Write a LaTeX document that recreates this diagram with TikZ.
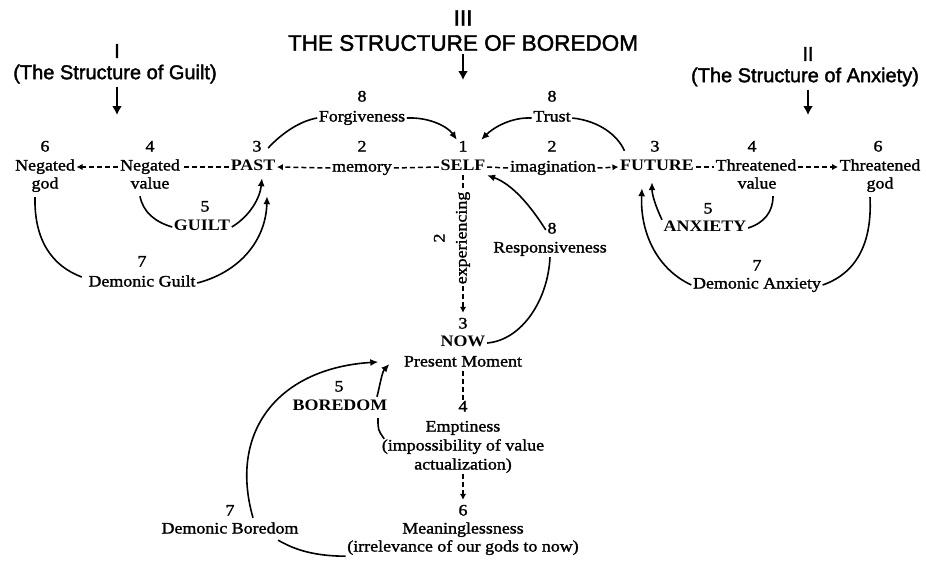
\documentclass[tikz,border=0pt]{standalone}
\usepackage{fontspec}
\setmainfont[FakeStretch=1.12]{Liberation Serif}
\newfontfamily\bodyfont[FakeStretch=1.12, FakeBold=1.5]{Liberation Serif}
\newfontfamily\capfont[FakeStretch=1.12]{Liberation Serif Bold}
\newfontfamily\hdfont[FakeBold=1.8]{Liberation Sans}
\usetikzlibrary{arrows.meta,calc}
\tikzset{
  txt/.style={font=\bodyfont\fontsize{16}{19}\selectfont, inner sep=1.5pt, text height=10pt, text depth=3pt},
  capw/.style={txt, font=\capfont\fontsize{16}{19}\selectfont},
  hd/.style={font=\hdfont\fontsize{20}{24}\selectfont, inner sep=0pt},
  ttl/.style={font=\hdfont\fontsize{22.5}{26}\selectfont, inner sep=0pt},
  ln/.style={line width=1.6pt},
  dl/.style={line width=1.5pt, dash pattern=on 5pt off 3pt},
  tp/.style={-{Latex[length=8pt,width=7pt]}},
  dtp/.style={-{Latex[length=6pt,width=6.5pt]}},
  hdar/.style={line width=2.4pt, -{Latex[length=9pt,width=10pt]}},
}
\begin{document}
\begin{tikzpicture}[x=1pt,y=-1pt]
\path[use as bounding box] (0,0) rectangle (926,560);

% headings
\node[ttl] (t3) at (463,18) {III};
\node[ttl] (title) at (463,43) {THE STRUCTURE OF BOREDOM};
\coordinate (t3end) at (463,80);
\draw[hdar] ([yshift=-3pt]title.south) -- (t3end);

\node[hd] (h1) at (117,51) {I};
\node[hd] (h1t) at (115,74) {(The Structure of Guilt)};
\coordinate (h1end) at (117,115);
\draw[hdar] ([yshift=-3pt]h1t.south -| h1end) -- (h1end);

\node[hd] (h2) at (808,54) {II};
\node[hd] (h2t) at (805,77) {(The Structure of Anxiety)};
\coordinate (h2end) at (808,115);
\draw[hdar] ([yshift=-3pt]h2t.south -| h2end) -- (h2end);

% main row
\node[txt] (n6a) at (45,148) {6};
\node[txt] (ngod) at (45,167) {Negated};
\node[txt] (ngod2) at (45,185) {god};
\node[txt] (n4a) at (150,148) {4};
\node[txt] (nval) at (150,167) {Negated};
\node[txt] (nval2) at (150,185) {value};
\node[txt] (n3a) at (257,148) {3};
\node[capw] (past) at (253,167) {PAST};
\node[txt] (n2a) at (362,148) {2};
\node[txt] (mem) at (362,168) {memory};
\node[txt] (n8a) at (362,98) {8};
\node[txt] (forg) at (362,118) {Forgiveness};
\node[txt] (n1) at (463,148) {1};
\node[capw] (self) at (463,167) {SELF};
\node[txt] (n2b) at (552,148) {2};
\node[txt] (imag) at (553,168) {imagination};
\node[txt] (n8b) at (552,98) {8};
\node[txt] (trust) at (552,118) {Trust};
\node[txt] (n3b) at (655,148) {3};
\node[capw] (fut) at (657,167) {FUTURE};
\node[txt] (n4b) at (752,148) {4};
\node[txt] (tval) at (756,167) {Threatened};
\node[txt] (tval2) at (757,185) {value};
\node[txt] (n6b) at (878,148) {6};
\node[txt] (tgod) at (880,167) {Threatened};
\node[txt] (tgod2) at (880,185) {god};

% guilt / anxiety
\node[txt] (n5a) at (205,208) {5};
\node[capw] (guilt) at (202,227) {GUILT};
\node[txt] (n7a) at (142,263) {7};
\node[txt] (dguilt) at (142,283) {Demonic Guilt};
\node[txt] (n5b) at (708,210) {5};
\node[capw] (anx) at (705,228) {ANXIETY};
\node[txt] (n7b) at (757,267) {7};
\node[txt] (danx) at (757,285) {Demonic Anxiety};

% centre column
\node[txt, rotate=90] (exp) at (463,238) {experiencing};
\node[txt, rotate=90] (n2c) at (441,238) {2};
\node[txt] (n3c) at (463,325) {3};
\node[capw] (now) at (463,343) {NOW};
\node[txt] (pm) at (463,363) {Present Moment};
\node[txt] (n8c) at (552,230) {8};
\node[txt] (resp) at (550,249) {Responsiveness};
\node[txt] (n4c) at (463,408) {4};
\node[txt] (emp) at (463,428) {Emptiness};
\node[txt] (emp2) at (463,447) {(impossibility of value};
\node[txt] (emp3) at (463,466) {actualization)};
\node[txt] (n6c) at (463,512) {6};
\node[txt] (mean) at (463,530) {Meaninglessness};
\node[txt] (mean2) at (463,548) {(irrelevance of our gods to now)};
\node[txt] (n5c) at (339,388) {5};
\node[capw] (bore) at (340,407) {BOREDOM};
\node[txt] (n7c) at (230,512) {7};
\node[txt] (dbore) at (230,530) {Demonic Boredom};

% dashed row connectors
\draw[dl, dtp] (nval.west) -- (ngod.east);
\draw[dl] (past.west) -- (nval.east);
\draw[dl, dtp] (mem.west) -- (past.east);
\draw[dl] (self.west) -- (mem.east);
\draw[dl] (self.east) -- (imag.west);
\draw[dl, dtp] (imag.east) -- (fut.west);
\draw[dl] (fut.east) -- (tval.west);
\draw[dl, dtp] (tval.east) -- (tgod.west);

% vertical dashed
\draw[dl] (self.south) -- (exp.east);
\draw[dl, dtp, shorten >=4pt] (exp.west) -- (n3c.north);
\draw[dl] (pm.south) -- (n4c.north);
\draw[dl, dtp, shorten >=4pt] (emp3.south) -- (n6c.north);

% forgiveness / trust
\draw[ln] ($(n3a.east)+(5,0)$) .. controls (282,133) and (300,121) .. (forg.west);
\draw[ln, tp] (forg.east) .. controls (430,117) and (448,127) .. (n1.north west);
\draw[ln, tp] (trust.west) .. controls (512,117) and (494,127) .. ($(n1.north east)+(12,0)$);
\draw[ln] (trust.east) .. controls (600,121) and (618,136) .. ($(fut.north west)+(6,-8)$);

% responsiveness
\draw[ln, tp] (n8c.west) .. controls (530,205) and (512,184) .. (self.south east);
\draw[ln] (now.east) .. controls (522,340) and (548,300) .. (resp.south);

% guilt side
\draw[ln, tp] (guilt.east) .. controls (250,216) and (260,198) .. ($(past.south)+(9,3)$);
\draw[ln, tp] (dguilt.east) .. controls (240,272) and (266,240) .. ($(past.south)+(14,21)$);
\draw[ln] ($(nval2.south)+(-10,3)$) .. controls (143,212) and (155,222) .. (guilt.west);
\draw[ln] ($(ngod2.south)+(-10,4)$) .. controls (34,240) and (52,266) .. ($(dguilt.west)+(-5,-6)$);

% anxiety side
\draw[ln] ($(tval2.south)+(16,3)$) .. controls (773,212) and (764,223) .. (anx.east);
\draw[ln, tp] (anx.north west) .. controls (655,205) and (652,194) .. ($(fut.south)+(-5,7)$);
\draw[ln, tp] (danx.west) .. controls (655,268) and (640,230) .. ($(fut.south)+(-15,13)$);
\draw[ln] (danx.east) .. controls (860,272) and (872,238) .. ($(tgod2.south)+(-10,4)$);

% boredom side
\draw[ln, tp] ($(bore.north east)+(-12,-2)$) .. controls (380,385) and (382,372) .. ($(pm.west)+(-13,1)$);
\draw[ln] ($(emp2.north west)+(4,0)$) .. controls (378,430) .. ($(bore.south east)+(-11,3)$);
\draw[ln, tp] ($(dbore.north)+(23,-4)$) .. controls (228,430) and (280,368) .. ($(pm.west)+(-24,-1)$);
\draw[ln] (mean2.south west) .. controls (310,556) and (292,548) .. ($(dbore.south east)+(-22,2)$);
\end{tikzpicture}
\end{document}
